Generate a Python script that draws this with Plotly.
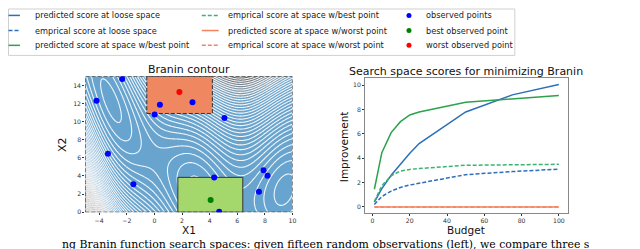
import numpy as np
import plotly.graph_objects as go

# ---------------- data ----------------
budget = [1, 5, 10, 15, 20, 25, 50, 75, 100]
pred_loose = [0.4, 1.5, 2.6, 3.5, 4.4, 5.2, 7.8, 9.2, 10.05]
emp_loose = [0.2, 0.85, 1.3, 1.6, 1.8, 1.95, 2.65, 2.9, 3.1]
pred_best = [1.45, 4.45, 6.1, 7.0, 7.55, 7.8, 8.6, 8.9, 9.15]
emp_best = [0.45, 1.75, 2.55, 2.95, 3.08, 3.15, 3.42, 3.47, 3.5]
pred_worst = [0, 0, 0, 0, 0, 0, 0, 0, 0]
emp_worst = [0, 0, 0, 0, 0, 0, 0, 0, 0]

obs_x = [-2.33, -4.19, -3.36, -1.52, 0.02, 0.40, 2.76, 5.07, 4.33, 4.69, 7.90, 8.19, 7.57]
obs_y = [14.7, 12.31, 6.45, 3.10, 10.8, 11.87, 12.13, 10.39, 3.83, 0.04, 4.64, 4.02, 2.25]
best_x = [4.07]
best_y = [1.36]
worst_x = [1.81]
worst_y = [13.27]

loose_space_x = [-5, 10]
loose_space_y = [0, 15]
best_space_x = [1.7, 6.4]
best_space_y = [0, 3.85]
worst_space_x = [-0.55, 4.2]
worst_space_y = [10.9, 15]

x_ticks_left = [-4, -2, 0, 2, 4, 6, 8, 10]
y_ticks_left = [0, 2, 4, 6, 8, 10, 12, 14]
x_ticks_right = [0, 20, 40, 60, 80, 100]
y_ticks_right = [0, 2, 4, 6, 8, 10]

# colours
BLUE = "#2c6fbb"
GREEN = "#2ca24a"
GREEN_D = "#3cb371"
ORANGE = "#f4845f"

W, H = 640, 249


def px(x):
    return x / W


def py(y):
    return 1 - y / H


# Branin function surface
def branin(x1, x2):
    a, b, c = 1.0, 5.1 / (4 * np.pi ** 2), 5 / np.pi
    r, s, t = 6.0, 10.0, 1 / (8 * np.pi)
    return a * (x2 - b * x1 ** 2 + c * x1 - r) ** 2 + s * (1 - t) * np.cos(x1) + s


gx = np.linspace(-5, 10, 241)
gy = np.linspace(0, 15, 241)
GX, GY = np.meshgrid(gx, gy)
Z = branin(GX, GY)

fig = go.Figure()

fig.add_trace(go.Heatmap(
    x=gx, y=gy, z=Z, zsmooth="best", showscale=False, hoverinfo="skip",
    colorscale=[[0, "#67a4cf"], [0.45, "#6ba3cb"], [0.57, "#8599a8"],
                [0.67, "#62666a"], [0.8, "#252525"], [1, "#000000"]],
    xaxis="x", yaxis="y"))


def rect(xs, ys):
    return [xs[0], xs[1], xs[1], xs[0], xs[0]], [ys[0], ys[0], ys[1], ys[1], ys[0]]


rx, ry = rect(worst_space_x, worst_space_y)
fig.add_trace(go.Scatter(x=rx, y=ry, fill="toself", fillcolor="#ef8760", mode="lines",
                         line=dict(color="#333333", width=1, dash="4px,2px"),
                         showlegend=False, hoverinfo="skip", xaxis="x", yaxis="y"))
rx, ry = rect(best_space_x, best_space_y)
fig.add_trace(go.Scatter(x=rx, y=ry, fill="toself", fillcolor="#a4d86c", mode="lines",
                         line=dict(color="#333333", width=1),
                         showlegend=False, hoverinfo="skip", xaxis="x", yaxis="y"))

fig.add_trace(go.Contour(
    x=gx, y=gy, z=Z, showscale=False, hoverinfo="skip",
    contours=dict(coloring="none", start=3, end=310, size=6.3),
    line=dict(color="rgba(255,255,255,0.9)", width=1.1, smoothing=1),
    xaxis="x", yaxis="y"))

rx, ry = rect(loose_space_x, loose_space_y)
fig.add_trace(go.Scatter(x=rx, y=ry, mode="lines",
                         line=dict(color="#333333", width=1, dash="4px,2px"),
                         showlegend=False, hoverinfo="skip", xaxis="x", yaxis="y"))

fig.add_trace(go.Scatter(x=obs_x, y=obs_y, mode="markers", name="observed points",
                         marker=dict(color="#0000ff", size=6), showlegend=False,
                         xaxis="x", yaxis="y"))
fig.add_trace(go.Scatter(x=best_x, y=best_y, mode="markers", name="best observed point",
                         marker=dict(color="#008000", size=6), showlegend=False,
                         xaxis="x", yaxis="y"))
fig.add_trace(go.Scatter(x=worst_x, y=worst_y, mode="markers", name="worst observed point",
                         marker=dict(color="#ff0000", size=6), showlegend=False,
                         xaxis="x", yaxis="y"))

series = [
    ("predicted score at loose space", pred_loose, BLUE, "solid"),
    ("emprical score at loose space", emp_loose, BLUE, "4px,2px"),
    ("predicted score at space w/best point", pred_best, GREEN, "solid"),
    ("emprical score at space w/best point", emp_best, GREEN_D, "4px,2px"),
    ("predicted score at space w/worst point", pred_worst, ORANGE, "solid"),
    ("emprical score at space w/worst point", emp_worst, ORANGE, "4px,2px"),
]
for name, vals, col, dash in series:
    fig.add_trace(go.Scatter(x=budget, y=vals, mode="lines", name=name,
                             line=dict(color=col, width=1.5, dash=dash),
                             showlegend=False, xaxis="x2", yaxis="y2"))

# ---------------- manual legend ----------------
shapes = []
annotations = []
LFONT = dict(family="DejaVu Sans", size=8.2, color="#222222")
shapes.append(dict(type="rect", xref="paper", yref="paper",
                   x0=px(0.5), x1=px(510), y0=py(48), y1=py(1),
                   line=dict(color="#d0d0d0", width=1), fillcolor="rgba(255,255,255,0.8)",
                   layer="above"))
rows = [7.5, 22.8, 37.8]
cols_line = [(-8, 12, 25), (195, 212, 219.5)]
for i, (name, vals, col, dash) in enumerate(series):
    c = i // 3
    r = i % 3
    x0, x1, xt = cols_line[c]
    shapes.append(dict(type="line", xref="paper", yref="paper",
                       x0=px(max(x0, 0.5)), x1=px(x1), y0=py(rows[r]), y1=py(rows[r]),
                       line=dict(color=col, width=1.5, dash=dash), layer="above"))
    annotations.append(dict(text=name, xref="paper", yref="paper", x=px(xt), y=py(rows[r]),
                            xanchor="left", yanchor="middle", showarrow=False, font=LFONT))
dots = [("observed points", "#0000ff"), ("best observed point", "#008000"),
        ("worst observed point", "#ff0000")]
for r, (name, col) in enumerate(dots):
    shapes.append(dict(type="circle", xref="paper", yref="paper", xsizemode="pixel",
                       ysizemode="pixel", xanchor=px(403.5), yanchor=py(rows[r]),
                       x0=-2.5, x1=2.5, y0=-2.5, y1=2.5, fillcolor=col,
                       line=dict(width=0), layer="above"))
    annotations.append(dict(text=name, xref="paper", yref="paper", x=px(418.5), y=py(rows[r]),
                            xanchor="left", yanchor="middle", showarrow=False, font=LFONT))

TFONT = dict(family="DejaVu Sans", size=11, color="#111111")
annotations.append(dict(text="Branin contour", xref="paper", yref="paper", x=px(182),
                        y=py(62.5), xanchor="center", yanchor="middle", showarrow=False,
                        font=TFONT))
annotations.append(dict(text="Search space scores for minimizing Branin", xref="paper",
                        yref="paper", x=px(461), y=py(64.5), xanchor="center",
                        yanchor="middle", showarrow=False, font=TFONT))

# axis titles
AXF = dict(family="DejaVu Sans", size=10.5, color="#111111")
AXF2 = dict(family="DejaVu Sans", size=10.5, color="#111111")
annotations.append(dict(text="X1", xref="paper", yref="paper", x=px(182), y=py(224.5),
                        xanchor="center", yanchor="middle", showarrow=False, font=AXF,
                        borderpad=0))
annotations.append(dict(text="X2", xref="paper", yref="paper", x=px(55), y=py(138),
                        xanchor="center", yanchor="middle", showarrow=False,
                        font=dict(family="DejaVu Sans", size=11, color="#111111"),
                        textangle=-90))
annotations.append(dict(text="Budget", xref="paper", yref="paper", x=px(461), y=py(224.5),
                        xanchor="center", yanchor="middle", showarrow=False, font=AXF2,
                        borderpad=0))
annotations.append(dict(text="Improvement", xref="paper", yref="paper", x=px(338), y=py(140),
                        xanchor="center", yanchor="middle", showarrow=False, font=AXF2,
                        textangle=-90))

annotations.append(dict(
    text="ng Branin function search spaces: given fifteen random observations (left), we compare three s",
    xref="paper", yref="paper", x=0.5, y=py(239), xanchor="center", yanchor="middle",
    showarrow=False, borderpad=0,
    font=dict(family="DejaVu Serif", size=10.9, color="#000000")))

TICKF = dict(family="DejaVu Sans", size=6.2, color="#333333")
common = dict(showgrid=False, zeroline=False, ticks="outside", ticklen=2, tickwidth=0.8,
              tickcolor="#333333", tickfont=TICKF)

fig.update_layout(
    width=W, height=H, margin=dict(l=0, r=0, t=0, b=0),
    paper_bgcolor="white", plot_bgcolor="white", showlegend=False,
    shapes=shapes, annotations=annotations,
    xaxis=dict(domain=[px(77.8), px(286.3)], range=[-5, 10], tickvals=x_ticks_left,
               ticktext=[str(v).replace("-", "\u2212") for v in x_ticks_left],
               anchor="y", **common),
    yaxis=dict(domain=[py(206.7), py(69.2)], range=[0, 15], tickvals=y_ticks_left,
               anchor="x", **common),
    xaxis2=dict(domain=[px(359.4), px(563.6)], range=[-3.95, 104.95], tickvals=x_ticks_right,
                anchor="y2", showline=True, mirror=True, linecolor="#888888", linewidth=1,
                **common),
    yaxis2=dict(domain=[py(207.5), py(71.3)], range=[-0.5, 10.55], tickvals=y_ticks_right,
                anchor="x2", showline=True, mirror=True, linecolor="#888888", linewidth=1,
                **common),
)

fig.write_html("out.html")
